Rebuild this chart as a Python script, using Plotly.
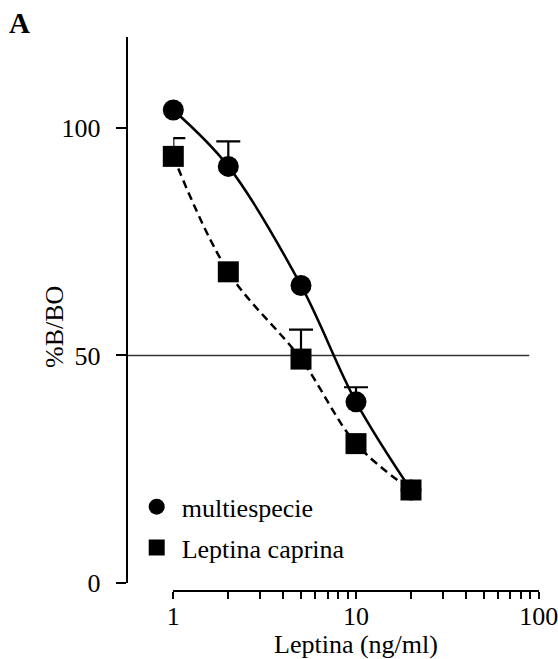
import plotly.graph_objects as go

# ---- data ----
dose = [1, 2, 5, 10, 20]                        # Leptina (ng/ml)
multiespecie = [104.0, 91.6, 65.4, 39.8, 20.4]  # %B/BO
multi_err = [None, 5.5, None, 3.2, None]        # upper error bars
caprina = [93.8, 68.4, 49.2, 30.6, 20.4]        # %B/BO
caprina_err = [4.0, None, 6.5, None, None]
ref_level = 50
x_tickvals = [1, 2, 3, 4, 5, 6, 7, 8, 9, 10, 20, 30, 40, 50, 60, 70, 80, 90, 100]
x_ticklabels = {1: "1", 10: "10", 100: "100"}
y_tickvals = [0, 50, 100]

FONT = "Liberation Serif"
W, H = 558, 659

# layout geometry (pixels in the 558x659 canvas)
Y_TOP_PX, Y_ZERO_PX, Y_MAX = 37.3, 582.7, 120
X_LINE_PX = 590.7
PX_PER_UNIT = (Y_ZERO_PX - Y_TOP_PX) / Y_MAX
Y_DATA_BOTTOM_PX = X_LINE_PX - 1.0            # axis line is drawn 1px below the domain
Y_DATA_MIN = -(Y_DATA_BOTTOM_PX - Y_ZERO_PX) / PX_PER_UNIT
Y_POS = 126.7 / W
X_DOMAIN = [173.3 / W, 538.7 / W]

fig = go.Figure()

# fitted curves (lines only)
fig.add_trace(go.Scatter(x=dose, y=multiespecie, mode="lines",
                         line=dict(color="black", width=2.5, shape="spline", smoothing=1.0),
                         showlegend=False, cliponaxis=False, hoverinfo="skip"))
fig.add_trace(go.Scatter(x=dose, y=caprina, mode="lines",
                         line=dict(color="black", width=2.5, dash="8px,5px", shape="spline", smoothing=1.0),
                         showlegend=False, cliponaxis=False, hoverinfo="skip"))

# upper error bars (only the points that have one): stems, then caps at the top end
for ys, err in ((multiespecie, multi_err), (caprina, caprina_err)):
    idx = [i for i, e in enumerate(err) if e is not None]
    ex = [dose[i] for i in idx]
    ey = [ys[i] for i in idx]
    ee = [err[i] for i in idx]
    fig.add_trace(go.Scatter(x=ex, y=ey, mode="markers", marker=dict(size=1, opacity=0),
                             error_y=dict(type="data", symmetric=False, array=ee,
                                          arrayminus=[0] * len(ee), color="black",
                                          thickness=2.2, width=0),
                             showlegend=False, cliponaxis=False, hoverinfo="skip"))
    fig.add_trace(go.Scatter(x=ex, y=ey, mode="markers", marker=dict(size=1, opacity=0),
                             error_y=dict(type="data", symmetric=False, array=ee,
                                          arrayminus=[-e for e in ee], color="black",
                                          thickness=2.2, width=12),
                             showlegend=False, cliponaxis=False, hoverinfo="skip"))

# markers
fig.add_trace(go.Scatter(x=dose, y=multiespecie, mode="markers", name="multiespecie",
                         legendgroup="a",
                         marker=dict(symbol="circle", size=21, color="black"),
                         cliponaxis=False))
fig.add_trace(go.Scatter(x=dose, y=caprina, mode="markers", name="Leptina caprina",
                         legendgroup="b",
                         marker=dict(symbol="square", size=21, color="black"),
                         cliponaxis=False))

# invisible companion trace so the displayed %B/BO axis (y2) is laid out
fig.add_trace(go.Scatter(x=dose, y=multiespecie, yaxis="y2", mode="markers",
                         marker=dict(size=1, opacity=0), showlegend=False, hoverinfo="skip"))

# reference line at 50 %
fig.add_shape(type="line", xref="paper", yref="y2", x0=Y_POS, x1=529.3 / W,
              y0=ref_level, y1=ref_level, line=dict(color="#333333", width=1.6), layer="below")

fig.add_annotation(text="%B/BO", xref="paper", yref="paper", x=54 / W, y=1 - 327 / H,
                   textangle=-90, showarrow=False, font=dict(family=FONT, size=26, color="black"),
                   xanchor="center", yanchor="middle")
fig.add_annotation(text="<b>A</b>", xref="paper", yref="paper", x=19.7 / W, y=1 - 22.7 / H,
                   showarrow=False, font=dict(family=FONT, size=29, color="black"),
                   xanchor="center", yanchor="middle")

fig.update_layout(
    width=W, height=H,
    margin=dict(l=0, r=0, t=0, b=0),
    paper_bgcolor="white", plot_bgcolor="rgba(0,0,0,0)",
    font=dict(family=FONT, size=26, color="black"),
    xaxis=dict(type="log", range=[0, 2], domain=X_DOMAIN,
               anchor="y", automargin=False,
               showline=True, linecolor="black", linewidth=2,
               ticks="outside", ticklen=7, tickwidth=1.5, tickcolor="black",
               tickmode="array", tickvals=x_tickvals,
               ticktext=[x_ticklabels.get(v, "") for v in x_tickvals],
               ticklabelstandoff=-5, ticklabeloverflow="allow",
               showgrid=False, zeroline=False,
               title=dict(text="Leptina (ng/ml)", font=dict(family=FONT, size=26), standoff=15)),
    # data axis (same scale as the displayed axis, extended down to the x-axis line)
    yaxis=dict(range=[Y_DATA_MIN, Y_MAX], domain=[1 - Y_DATA_BOTTOM_PX / H, 1 - Y_TOP_PX / H],
               anchor="x", automargin=False, showline=False, ticks="",
               showticklabels=False, showgrid=False, zeroline=False),
    # displayed %B/BO axis
    yaxis2=dict(range=[0, Y_MAX], domain=[1 - Y_ZERO_PX / H, 1 - Y_TOP_PX / H],
                anchor="free", position=Y_POS, automargin=False,
                showline=True, linecolor="black", linewidth=2,
                ticks="outside", ticklen=10, tickwidth=2, tickcolor="black",
                tickmode="array", tickvals=y_tickvals,
                ticklabelstandoff=10,
                showgrid=False, zeroline=False),
    legend=dict(x=131.7 / W, y=1 - 483.3 / H, xanchor="left", yanchor="top",
                itemwidth=40, tracegroupgap=4,
                bgcolor="rgba(0,0,0,0)", font=dict(family=FONT, size=26)),
    showlegend=True,
)

fig.write_html("out.html", config={"displayModeBar": False},
               post_script="document.body.style.margin='0';")
